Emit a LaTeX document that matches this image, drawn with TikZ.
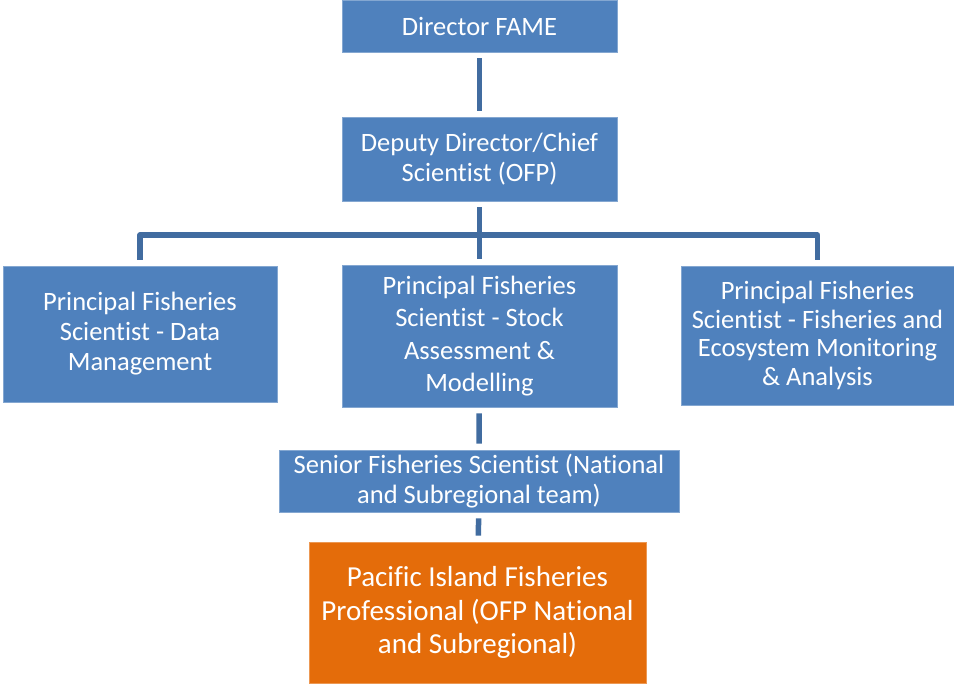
\documentclass[tikz,border=0pt]{standalone}
\usepackage{fontspec}
\setmainfont[Ligatures={NoCommon,NoContextual}]{Carlito}
\definecolor{boxblue}{HTML}{4F81BD}
\definecolor{linkblue}{HTML}{416CA0}
\definecolor{boxorange}{HTML}{E46C0A}
\tikzset{
  post/.style={rectangle,fill=boxblue,draw=boxblue!70!white,line width=0.8pt,text=white,align=center,inner sep=0pt,font=\fontsize{26.5}{30}\selectfont},
  link/.style={draw=linkblue,line width=5.5pt,line join=round,shorten <=6pt,shorten >=6pt}
}
\begin{document}
\begin{tikzpicture}[x=1pt,y=-1pt]
	\useasboundingbox (0,0) rectangle (954,686);
	\draw (479.5,26) node [post,minimum width=275pt,minimum height=52pt] (dir) {Director FAME};
	\draw (479.5,159) node [post,minimum width=275pt,minimum height=84pt] (dep) {Deputy Director/Chief\\Scientist (OFP)};
	\draw (140,334) node [post,minimum width=274pt,minimum height=136pt] (data) {Principal Fisheries\\Scientist - Data\\Management};
	\draw (479.5,336) node [post,minimum width=275pt,minimum height=142pt,font=\fontsize{26.5}{32.3}\selectfont] (stock) {Principal Fisheries\\Scientist - Stock\\Assessment \&\\Modelling};
	\draw (817.5,335.5) node [post,minimum width=273pt,minimum height=139pt,font=\fontsize{26.5}{28.7}\selectfont] (eco) {Principal Fisheries\\Scientist - Fisheries and\\Ecosystem Monitoring\\\& Analysis};
	\draw (479,481) node [post,minimum width=400pt,minimum height=62pt] (senior) {Senior Fisheries Scientist (National\\and Subregional team)};
	\draw (477.5,612.5) node [post,fill=boxorange,draw=boxorange!70!white,minimum width=337pt,minimum height=141pt,font=\fontsize{29}{33.5}\selectfont] (pifp) {Pacific Island Fisheries\\Professional (OFP National\\and Subregional)};
	\coordinate (bus) at (479.5,235);
	\path[link]
		(dir) edge (dep)
		(dep) edge (stock)
		(stock) edge (senior)
		(senior) edge (pifp);
	\draw[link] (data) |- (bus) -| (eco);
\end{tikzpicture}
\end{document}
